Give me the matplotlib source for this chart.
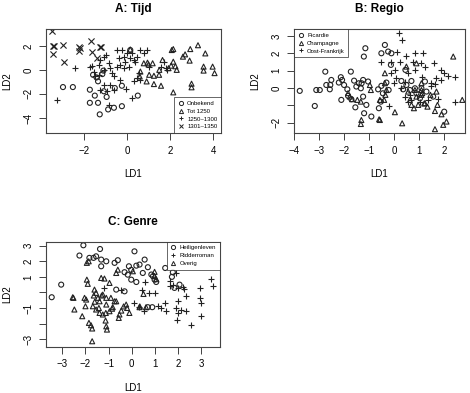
import matplotlib
matplotlib.use("Agg")
import matplotlib.pyplot as plt
from matplotlib.lines import Line2D

plt.rcParams['font.family'] = ['Liberation Sans', 'DejaVu Sans']

# ---- A: Tijd ----
a_onb_x = [-2.98, -2.52, -1.73, -1.73, -1.50, -1.35, -1.27, -0.95, -0.88, -0.61, -0.24, -0.24,
           -0.57, -1.58, -1.42, -1.35, -1.10, -1.08, 0.50, 0.15, -1.15]
a_onb_y = [-1.43, -1.43, -1.65, -2.74, -2.14, -2.74, -3.70, -2.25, -3.29, -3.15, -3.02, -1.32,
           -1.51, -0.41, -0.63, -0.95, -0.06, -1.78, -2.14, 1.65, -0.35]
a_tot_x = [2.15, 2.70, 2.94, 3.30, 3.64, 3.56, 3.56, 3.98, 4.07, 3.00, 3.00, 2.15, 1.58, 1.25,
           0.91, 1.03, 1.25, 1.49, 0.59, 0.62, 0.78, 0.95, 1.19, 1.65, 1.93, 2.15, 2.25, 2.31,
           2.60, 2.91, 2.08, 0.15, 1.00, 2.05, 1.50]
a_tot_y = [1.73, 1.29, 1.73, 2.05, 1.37, 0.27, -0.06, 0.27, -0.27, -1.15, -1.45, -1.87, -1.32,
           -1.18, -0.96, -0.41, -0.49, -0.41, -0.55, -0.14, 0.55, 0.60, 0.55, 0.82, 0.14, 0.68,
           0.30, 0.00, 1.10, 0.77, 1.65, 1.70, 0.45, 0.35, 0.00]
a_mid_x = [-1.64, -1.56, -1.48, -1.32, -1.25, -1.09, -0.97, -0.86, -0.78, -0.70, -0.62, -0.47,
           -0.39, -0.31, -0.23, -0.16, -0.08, 0.00, 0.08, 0.16, 0.23, 0.31, 0.39, 0.47, 0.62,
           0.78, -1.25, -1.09, -0.93, -0.78, -0.62, -0.86, -0.03, 0.23, 0.31, 0.47, 0.55, 0.62,
           1.01, 1.56, 1.79, 1.71, 1.87, -2.41, -3.27, -1.71, -0.47, -1.09, -1.32, -0.16, 0.93,
           -0.31]
a_mid_y = [0.33, -0.14, -0.55, 0.41, 0.83, 1.10, 1.24, 0.55, 0.14, -0.28, -0.55, 1.65, 0.96,
           0.41, 1.65, 1.10, 0.69, 1.38, 0.28, 0.96, 1.38, 0.83, 0.69, 1.10, 1.65, 1.43, -1.65,
           -1.24, -1.79, -1.24, -1.65, -2.89, -1.60, -2.34, -0.96, -0.69, -0.28, -0.83, 0.28,
           0.28, 0.14, 0.69, 0.00, 0.14, -2.48, 0.28, 0.28, 0.00, -0.41, 0.14, 1.65, -0.83]
a_late_x = [-3.48, -3.45, -3.42, -2.98, -3.45, -2.95, -2.23, -2.18, -2.23, -1.70, -1.65, -1.27,
            -1.22, -1.42]
a_late_y = [3.21, 2.00, 1.95, 2.06, 1.29, 0.68, 1.92, 1.85, 1.56, 2.41, 1.51, 1.92, 1.88, 0.96]
a_labels = ["Onbekend", "Tot 1250", "1250\u20131300", "1301\u20131350"]

# ---- B: Regio ----
b_pic_x = [-3.77, -3.17, -3.11, -2.97, -2.75, -2.71, -2.57, -2.51, -2.55, -2.21, -2.13, -2.08,
           -2.00, -2.11, -1.87, -1.84, -1.73, -1.71, -1.60, -1.55, -1.51, -1.41, -1.33, -1.30,
           -1.24, -1.21, -1.15, -1.24, -1.20, -1.11, -1.04, -0.91, -0.64, -0.61, -0.53, -0.51,
           -0.45, -0.37, -0.51, -0.24, -0.13, -0.11, -0.31, -0.22, 0.29, 0.36, 0.45, 0.49, 0.63,
           0.69, 0.83, 0.89, 1.03, 1.09, 1.23, 1.29, 1.56, 2.00]
b_pic_y = [-0.17, -1.04, -0.12, -0.12, 0.94, 0.17, -0.08, 0.46, 0.17, 0.31, 0.62, 0.46, 0.17,
           -0.69, -0.08, -0.46, 0.94, -0.65, 0.42, -1.12, 0.08, 0.27, -0.02, 0.27, 0.46, 1.81,
           2.29, -0.50, -1.46, -0.98, 0.37, -1.65, -0.08, -1.17, -0.79, 0.12, -0.31, 2.48, 2.00,
           2.10, 1.33, 2.00, 0.31, -0.12, 0.40, -0.08, 1.04, 0.17, -0.12, 0.40, -0.02, -0.31,
           -0.60, -0.02, 0.37, -0.21, -0.50, -1.37]
b_cha_x = [-0.37, 0.49, 2.36, 2.72, -0.57, 0.03, 0.32, 1.63, 1.96, 2.09, 1.89, 1.63, 1.73, 1.69,
           1.23, 1.33, 0.96, 0.69, 0.79, 1.09, 1.09, 1.12, 1.09, 0.83, 0.89, 0.56, 0.63, -0.57,
           -0.37, -0.31, -1.84, -1.77, -1.68, -1.47, -1.33, -1.33, -1.31, -0.97, -0.93, -0.60,
           -0.35, -0.40, 0.89, 1.45, 1.20]
b_cha_y = [0.85, 1.23, 1.81, -0.69, -1.85, -1.40, -2.04, -2.38, -2.13, -1.94, -1.52, -1.33,
           -0.98, -0.21, -0.88, -1.08, -0.98, -0.98, -1.17, 0.27, -0.12, -0.30, -0.40, -0.12,
           -0.50, -0.21, -0.69, -0.69, 0.27, -0.12, -0.30, -0.50, -0.65, -0.69, -0.79, -2.08,
           -1.85, 0.17, -0.12, -1.81, -0.40, -0.69, 1.42, -0.40, -0.90]
b_oost_x = [0.20, 0.33, 0.13, -0.51, -0.11, 0.23, 0.49, 0.76, 0.83, 1.16, 1.23, 1.60, 0.83,
            1.09, 0.03, 0.09, 0.43, 0.56, 2.00, 2.16, 2.43, 1.87, 1.69, 1.63, 1.49, 2.43, 1.76,
            1.36, 1.03, 0.69, 0.43, 0.56, -0.21, 0.29, 0.00, 1.12, 1.89, 1.49, 0.63, -0.11]
b_oost_y = [3.15, 2.77, 2.10, 1.52, 1.52, 1.52, 1.87, 1.52, 2.04, 2.00, 1.23, 1.46, 1.04, 1.46,
            1.04, 0.56, 0.37, 0.85, 0.85, 0.69, 0.65, 0.46, 0.56, 0.23, 0.12, -0.79, -0.63,
            -0.69, -0.79, -0.69, -0.50, -0.79, -1.04, -0.02, 0.27, 0.65, 1.04, 0.27, -0.40, 0.88]
b_labels = ["Picardie", "Champagne", "Oost-Frankrijk"]

# ---- C: Genre ----
c_hei_x = [-3.46, -3.05, -2.26, -2.09, -1.37, -1.54, -1.65, -1.32, -1.10, -0.74, -0.60, -0.31,
           -0.12, -0.02, 0.12, 0.20, 0.34, 0.48, 0.56, 0.70, 0.85, 0.92, 0.99, 1.06, 1.45, 1.74,
           2.07, -0.31, 0.20, -0.02, 0.89, 1.78, -1.83, -1.32, -0.17, -0.67, 1.85, 0.70]
c_hei_y = [-0.31, 0.50, 2.37, 3.03, 2.79, 2.32, 2.22, 2.11, 2.00, 1.90, 2.07, 1.30, 1.68, 1.45,
           2.64, 1.72, 1.79, 1.25, 2.11, 1.62, 1.15, 1.04, 0.82, 0.67, 1.57, 1.00, 0.50, 0.07,
           0.67, 0.82, -0.95, 1.29, 2.22, 1.68, 1.14, 0.18, 0.29, -0.95]
c_rid_x = [-1.18, -0.45, 0.44, 0.58, 0.77, 0.99, 0.12, 0.55, 1.13, 1.28, 1.42, 1.64, 1.78,
           1.93, 1.64, 2.00, 2.21, 2.28, 2.00, 1.93, 2.00, 2.14, 1.97, 2.36, 2.58, 2.94, 2.94,
           3.01, 3.01, 3.41, 3.51, 2.36, 0.30, 1.50]
c_rid_y = [0.29, 0.18, 0.18, 0.65, -0.03, -0.03, -0.67, -1.22, -0.89, -1.00, -0.67, 0.72, 0.50,
           1.25, 0.40, 0.29, 0.33, 0.25, -0.57, -1.00, -1.32, -1.10, -1.75, -1.21, -2.07, 0.29,
           -0.35, -0.67, -1.53, 0.87, 0.40, -0.25, -0.95, -1.20]
c_ove_x = [-1.94, -1.86, -1.94, -1.90, -2.52, -2.48, -2.04, -2.00, -2.14, -1.76, -1.71, -1.71,
           -1.61, -1.54, -1.64, -1.46, -1.39, -1.68, -1.54, -1.39, -1.25, -1.12, -0.96, -1.10,
           -1.18, -0.96, -1.25, -1.10, -0.74, -0.82, -0.60, -0.67, -0.45, -0.53, -0.24, -0.10,
           -1.10, -1.07, -1.13, 0.51, 0.34, 0.62, 0.99, 0.99, 1.06, 0.05, -0.56, -0.67, -1.32,
           -2.55, -1.97, -1.85, -1.42, -0.85, -0.35, -0.20, -1.60, -1.30, -0.90, 0.35]
c_ove_y = [1.90, 2.00, 0.82, 0.55, -0.35, -1.10, -0.35, -0.89, -1.53, -2.11, -2.32, -3.14,
           0.18, -0.03, -0.20, -0.35, -0.57, -0.89, -1.10, -1.32, -1.42, -1.32, -1.21, -0.78,
           0.89, 0.61, -0.14, -0.35, -0.57, -0.95, 1.46, 1.25, -1.17, -1.42, -0.78, -1.32,
           -2.18, -2.39, -1.81, -0.10, -0.95, -0.95, 1.32, 1.05, 0.85, 1.36, -1.64, -0.57,
           0.93, -0.31, -0.46, -1.96, -1.00, -1.05, -0.90, -1.00, -0.60, -0.20, -0.35, -0.90]
c_labels = ["Heiligenleven", "Ridderroman", "Overig"]

W, H = 470, 393
fig = plt.figure(figsize=(W / 100, H / 100), dpi=100)

ink = '#222222'


def panel(l, t, r, b):
    return fig.add_axes([l / W, 1 - b / H, (r - l) / W, (b - t) / H])


def style(ax, title, xt, yt, ylabs, xlim, ylim):
    ax.set_xlim(*xlim)
    ax.set_ylim(*ylim)
    ax.set_xticks(xt)
    ax.set_xticklabels([str(v).replace('-', '\u2212') for v in xt], fontsize=7)
    ax.set_yticks(yt)
    ax.set_yticklabels(ylabs, fontsize=7, rotation=90, va='center')
    ax.tick_params(length=5, width=0.6, color=ink, pad=4)
    for s in ax.spines.values():
        s.set_linewidth(0.8)
        s.set_color('#444444')
    ax.set_title(title, fontsize=8.5, fontweight='bold', pad=12)
    ax.set_xlabel("LD1", fontsize=7, labelpad=10)
    ax.set_ylabel("LD2", fontsize=7, labelpad=8)


def pts(ax, x, y, m, s=13):
    if m in ('o', '^'):
        ax.scatter(x, y, marker=m, s=s, facecolors='none', edgecolors=ink, linewidths=0.8)
    else:
        ax.scatter(x, y, marker=m, s=s * 1.5, color=ink, linewidths=0.8)


def leg(ax, labels, markers, loc):
    handles = [Line2D([], [], linestyle='none', marker=m, markersize=3,
                      markerfacecolor='none', markeredgecolor=ink, markeredgewidth=0.7)
               for m in markers]
    lg = ax.legend(handles, labels, loc=loc, fontsize=4.3, frameon=True, fancybox=False,
                   borderaxespad=0, handlelength=1.0, handletextpad=0.6, borderpad=0.6,
                   labelspacing=0.45)
    lg.get_frame().set_edgecolor(ink)
    lg.get_frame().set_linewidth(0.6)


# A
axA = panel(46, 29, 221, 133)
pts(axA, a_onb_x, a_onb_y, 'o')
pts(axA, a_tot_x, a_tot_y, '^')
pts(axA, a_mid_x, a_mid_y, '+')
pts(axA, a_late_x, a_late_y, 'x')
style(axA, "A: Tijd", [-2, 0, 2, 4], [-4, -2, 0, 2], ['\u22124', '\u22122', '0', '2'],
      (-3.77, 4.37), (-5.25, 3.4))
leg(axA, a_labels, ['o', '^', '+', 'x'], 'lower right')

# B
axB = panel(294, 29, 465, 133)
pts(axB, b_pic_x, b_pic_y, 'o')
pts(axB, b_cha_x, b_cha_y, '^')
pts(axB, b_oost_x, b_oost_y, '+')
style(axB, "B: Regio", [-4, -3, -2, -1, 0, 1, 2], [-2, -1, 0, 1, 2, 3],
      ['\u22122', '', '0', '1', '2', '3'], (-4.0, 2.83), (-2.6, 3.4))
leg(axB, b_labels, ['o', '^', '+'], 'upper left')

# C
axC = panel(45.7, 241.7, 220, 346.7)
pts(axC, c_hei_x, c_hei_y, 'o')
pts(axC, c_rid_x, c_rid_y, '+')
pts(axC, c_ove_x, c_ove_y, '^')
style(axC, "C: Genre", [-3, -2, -1, 0, 1, 2, 3], [-3, -2, -1, 0, 1, 2, 3],
      ['\u22123', '', '\u22121', '', '1', '2', '3'], (-3.72, 3.82), (-3.49, 3.26))
leg(axC, c_labels, ['o', '+', '^'], 'upper right')

fig.savefig("out.png", dpi=100)
